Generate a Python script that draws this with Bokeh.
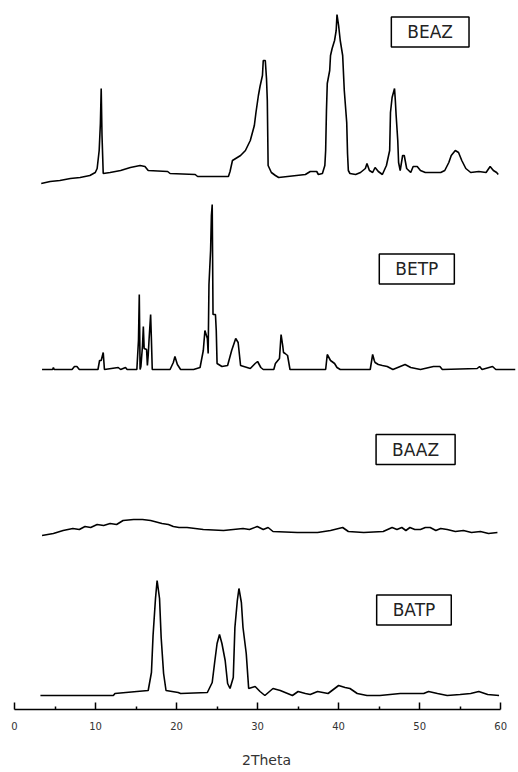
from bokeh.plotting import figure
from bokeh.models import Label, FixedTicker, Range1d
from bokeh.embed import file_html
from bokeh.resources import INLINE

# ---- data (2Theta in degrees, intensity in arbitrary units) ----
beaz_theta = [3.3, 4.4, 5.6, 6.9, 8.1, 9.3, 9.97, 10.2, 10.45, 10.6, 10.7, 10.8, 10.95, 11.8, 13.1, 14.3,
              15.5, 16.1, 16.5, 18.9, 19.2, 22.3, 22.6, 26.4, 26.6, 26.9, 27.9, 28.5, 29.1, 29.6, 29.8,
              30.1, 30.3, 30.6, 30.7, 30.95, 31.1, 31.2, 31.3, 31.7, 32.2, 32.6, 33.7, 35.9, 36.5, 37.3,
              37.5, 38.0, 38.3, 38.4, 38.5, 38.6, 38.9, 39.0, 39.2, 39.5, 39.7, 39.8, 40.0, 40.2, 40.5,
              40.7, 41.0, 41.1, 41.2, 41.4, 42.1, 42.7, 43.3, 43.5, 43.8, 44.2, 44.5, 44.9, 45.4, 45.9,
              46.3, 46.4, 46.6, 46.9, 47.0, 47.1, 47.3, 47.4, 47.6, 47.9, 48.1, 48.4, 48.9, 49.2, 49.7,
              50.1, 50.7, 52.6, 53.1, 53.6, 53.9, 54.4, 54.8, 55.2, 55.7, 56.3, 57.3, 58.2, 58.7, 59.1,
              59.5, 59.7]
beaz_int = [0, 2, 3, 5, 6, 8, 11, 15, 33, 60, 95, 48, 10, 11, 13, 16,
            18, 17, 13, 12, 10, 9, 7, 7, 12, 23, 28, 33, 43, 58, 71,
            88, 97, 108, 123, 123, 105, 83, 18, 11, 8, 6, 7, 9, 12, 12,
            9, 10, 18, 33, 73, 100, 113, 128, 135, 143, 153, 169, 158, 143, 128,
            93, 61, 30, 13, 10, 9, 11, 15, 20, 13, 11, 16, 12, 9, 18,
            33, 71, 86, 95, 83, 68, 43, 21, 13, 28, 28, 15, 11, 17, 17,
            13, 11, 11, 13, 21, 28, 33, 31, 23, 15, 11, 12, 11, 17, 13,
            11, 9]

betp_theta = [3.4, 4.7, 4.8, 4.9, 7.1, 7.4, 7.7, 8.0, 10.3, 10.5, 10.7, 10.95, 11.1, 12.8, 13.1, 13.7,
              13.9, 15.1, 15.3, 15.4, 15.5, 15.6, 15.8, 15.9, 16.0, 16.3, 16.4, 16.5, 16.6, 16.8, 16.9,
              17.0, 19.2, 19.6, 19.8, 20.1, 20.5, 22.1, 22.9, 23.3, 23.5, 23.8, 23.9, 24.0, 24.2, 24.3,
              24.4, 24.5, 24.8, 24.9, 25.0, 25.6, 26.3, 26.8, 27.3, 27.6, 27.9, 29.1, 29.7, 30.0, 30.4,
              30.7, 32.0, 32.2, 32.7, 32.9, 33.1, 33.2, 33.4, 33.7, 34.0, 38.4, 38.6, 39.0, 39.5, 39.8,
              40.2, 43.9, 44.2, 44.4, 44.5, 44.9, 45.4, 46.0, 46.7, 47.6, 48.2, 48.9, 50.1, 51.7, 52.5,
              52.8, 57.1, 57.4, 57.7, 59.0, 59.4, 61.8]
betp_int = [0, 0, 2, 0, 0, 3, 3, 0, 0, 9, 9, 17, 0, 2, 0, 2,
            0, 0, 29, 75, 0, 3, 24, 43, 21, 20, 4, 14, 29, 55, 29,
            0, 0, 7, 13, 5, 0, 0, 2, 19, 39, 31, 16, 85, 119, 154,
            165, 55, 55, 39, 6, 3, 4, 19, 31, 27, 4, 1, 6, 8, 2,
            0, 0, 6, 11, 35, 24, 17, 16, 14, 0, 0, 15, 9, 6, 2,
            0, 0, 15, 9, 7, 5, 4, 3, 0, 3, 5, 2, 0, 3, 3,
            0, 1, 3, 0, 3, 0, 0]

baaz_theta = [3.4, 4.8, 6.0, 7.2, 8.0, 8.7, 9.4, 10.2, 11.0, 11.8, 12.6, 13.4, 14.7, 15.8, 16.8, 18.2,
              19.0, 19.6, 20.3, 21.3, 23.3, 25.8, 27.0, 28.2, 29.0, 29.96, 30.7, 31.3, 31.9, 34.9, 37.4,
              39.0, 40.5, 41.2, 43.1, 45.5, 46.6, 47.2, 47.8, 48.3, 48.8, 49.4, 50.1, 50.7, 51.3, 52.0,
              52.6, 53.4, 54.4, 55.4, 56.4, 57.5, 58.5, 59.6]
baaz_int = [0, 2, 5, 7, 6, 9, 8, 11, 10, 12, 11, 15, 16, 16, 15, 12,
            11, 9, 8, 8, 6, 5, 6, 7, 6, 9, 6, 8, 4, 3, 3,
            5, 8, 4, 3, 4, 8, 6, 8, 5, 8, 6, 6, 8, 8, 5,
            7, 6, 4, 5, 3, 4, 2, 3]

batp_theta = [3.2, 12.2, 12.4, 15.1, 16.5, 16.9, 17.1, 17.4, 17.6, 17.9, 18.1, 18.4, 18.7, 20.2, 20.5,
              23.8, 24.4, 24.7, 25.0, 25.3, 25.6, 26.0, 26.3, 26.6, 27.0, 27.2, 27.5, 27.7, 28.0, 28.2,
              28.6, 28.9, 29.7, 30.3, 30.9, 31.9, 32.8, 33.7, 34.3, 35.0, 35.9, 36.5, 37.4, 38.7, 40.0,
              40.8, 41.4, 42.3, 43.5, 45.1, 47.6, 50.5, 51.1, 52.2, 53.4, 55.0, 56.3, 57.3, 58.4, 59.8]
batp_int = [0, 0, 2, 4, 5, 23, 60, 97, 115, 97, 58, 22, 5, 3, 2,
            3, 13, 33, 52, 61, 52, 35, 12, 7, 18, 68, 95, 107, 93, 68,
            42, 7, 9, 4, 0, 7, 5, 2, 0, 4, 2, 1, 4, 2, 10,
            8, 7, 2, 0, 0, 2, 2, 4, 2, 0, 1, 2, 4, 1, 0]

samples = ["BEAZ", "BETP", "BAAZ", "BATP"]
offsets = [526, 340, 174, 14]
label_x = [51.3, 49.65, 49.5, 49.3]
label_y = [677.5, 440.5, 260, 99.5]

x_ticks = [0, 10, 20, 30, 40, 50, 60]
x_minor = [5, 15, 25, 35, 45, 55]

p = figure(width=518, height=772, x_range=Range1d(0, 62.2), y_range=Range1d(0, 709),
           output_backend="svg", toolbar_location=None, y_axis_location=None,
           min_border_left=14, min_border_right=0, min_border_top=0, min_border_bottom=63)
p.outline_line_color = None
p.xgrid.visible = False
p.ygrid.visible = False
p.background_fill_color = "white"

thetas = [beaz_theta, betp_theta, baaz_theta, batp_theta]
ints = [beaz_int, betp_int, baaz_int, batp_int]
for th, it, off in zip(thetas, ints, offsets):
    p.line(th, [v + off for v in it], line_color="black", line_width=1.6)

for name, lx, ly in zip(samples, label_x, label_y):
    p.add_layout(Label(x=lx, y=ly, text=name, text_align="center", text_baseline="middle",
                       text_font="DejaVu Sans", text_font_size="17px", text_color="#222222",
                       border_line_color="black", border_line_width=1.5,
                       background_fill_color="white", padding=(16, 5)))

xa = p.xaxis[0]
xa.bounds = (0, 60)
xa.ticker = FixedTicker(ticks=x_ticks, minor_ticks=x_minor)
xa.major_tick_in = 7
xa.major_tick_out = 0
xa.minor_tick_in = 3
xa.minor_tick_out = 0
xa.axis_line_width = 1.5
xa.major_tick_line_width = 1.5
xa.minor_tick_line_width = 1.5
xa.major_label_text_font = "DejaVu Sans"
xa.major_label_text_font_size = "10px"
xa.major_label_text_color = "#333333"
xa.major_label_standoff = 12
xa.axis_label = "2Theta"
xa.axis_label_text_font = "DejaVu Sans"
xa.axis_label_text_font_size = "14px"
xa.axis_label_text_font_style = "normal"
xa.axis_label_text_color = "#333333"
xa.axis_label_standoff = 19

open("out.html", "w").write(file_html(p, INLINE))
